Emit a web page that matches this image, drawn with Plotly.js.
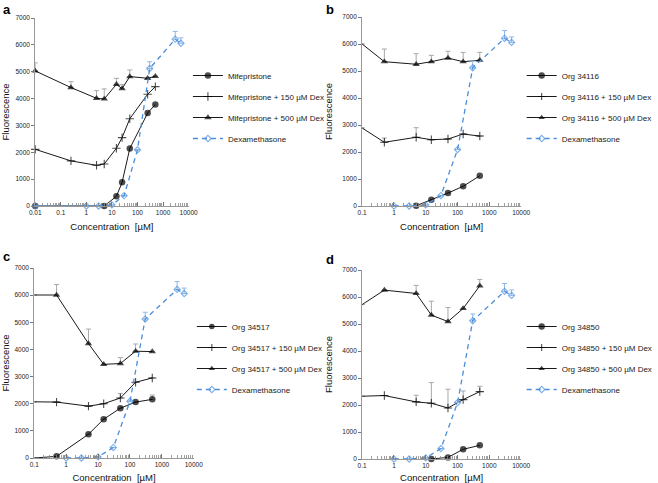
<!DOCTYPE html>
<html><head><meta charset="utf-8">
<script src="https://cdn.plot.ly/plotly-3.0.1.min.js"></script>
<style>html,body{margin:0;padding:0;background:#fff}#chart{width:658px;height:483px}</style>
</head><body><div id="chart"></div>
<script>
// ---- Shared dexamethasone curve ----
const dexX = [1, 3, 10, 30, 100, 300, 3000, 5000];
const dexY = [0, 0, 40, 385, 2090, 5120, 6210, 6060];
const dexErr = [0, 0, 0, 0, 0, 250, 290, 200];
const dexCtrlX = [0.01];   // control point shown in panel a only
const dexCtrlY = [0];

// ---- Panel a: Mifepristone ----
const aNames = ['Mifepristone', 'Mifepristone + 150 µM Dex', 'Mifepristone + 500 µM Dex', 'Dexamethasone'];
const aDrugX = [0.01, 5, 15, 25, 50, 250, 500];
const aDrugY = [0, 0, 360, 880, 2140, 3460, 3780];
const aX = [0.01, 0.25, 2.5, 5, 15, 25, 50, 250, 500];
const a150Y = [2110, 1680, 1515, 1565, 2150, 2545, 3250, 4160, 4445];
const a500Y = [5030, 4410, 4010, 3985, 4530, 4370, 4820, 4755, 4830];
const a500Err = [300, 220, 285, 375, 225, 150, 245, 0, 0];

// ---- Panel b: Org 34116 ----
const bNames = ['Org 34116', 'Org 34116 + 150 µM Dex', 'Org 34116 + 500 µM Dex', 'Dexamethasone'];
const bDrugX = [5, 15, 50, 150, 500];
const bDrugY = [10, 230, 480, 730, 1120];
const bX = [0.1, 0.5, 5, 15, 50, 150, 500];
const b150Y = [2890, 2360, 2545, 2455, 2480, 2665, 2590];
const b150Err = [0, 160, 355, 0, 0, 0, 0];
const b500Y = [6000, 5345, 5250, 5345, 5480, 5345, 5400];
const b500Err = [0, 470, 390, 235, 250, 345, 290];

// ---- Panel c: Org 34517 ----
const cNames = ['Org 34517', 'Org 34517 + 150 µM Dex', 'Org 34517 + 500 µM Dex', 'Dexamethasone'];
const cX = [0.1, 0.5, 5, 15, 50, 150, 500];
const cDrugY = [0, 60, 875, 1430, 1835, 2060, 2160];
const cDrugErr = [0, 0, 0, 0, 0, 0, 160];
const c150Y = [2070, 2060, 1910, 2000, 2210, 2790, 2950];
const c150Err = [0, 0, 0, 0, 170, 0, 0];
const c500Y = [6005, 6005, 4215, 3450, 3480, 3935, 3920];
const c500Err = [0, 385, 535, 0, 220, 265, 0];

// ---- Panel d: Org 34850 ----
const dNames = ['Org 34850', 'Org 34850 + 150 µM Dex', 'Org 34850 + 500 µM Dex', 'Dexamethasone'];
const dDrugX = [15, 50, 150, 500];
const dDrugY = [0, 60, 360, 505];
const dX = [0.1, 0.5, 5, 15, 50, 150, 500];
const d150Y = [2325, 2350, 2115, 2065, 1890, 2200, 2495];
const d150Err = [0, 0, 245, 765, 695, 320, 200];
const d500Y = [5720, 6255, 6130, 5330, 5090, 5575, 6415];
const d500Err = [0, 0, 300, 515, 520, 0, 235];

const xTickVals = [0.01, 0.1, 1, 10, 100, 1000, 10000];
const xTickText = ['0.01', '0.1', '1', '10', '100', '1000', '10000'];
const yTickVals = [0, 1000, 2000, 3000, 4000, 5000, 6000, 7000];

// ---------------------------------------------------------------
const BLACK = '#000000', BLUE = '#4a8edb', ERRG = '#a8a8a8';
const FONT = 'Liberation Sans, Arial, Helvetica, sans-serif';
const traces = [];
let gid = 0;

function series(name, x, y, err, kind, n, hideAt) {
  const sym = {circle: 'circle', cross: 'cross-thin-open', tri: 'triangle-up', dex: 'diamond-open'}[kind];
  const baseSize = {circle: 6.5, cross: 6, tri: 6.5, dex: 4.8}[kind];
  const col = kind === 'dex' ? BLUE : BLACK;
  const sizes = x.map(v => (hideAt !== undefined && v <= hideAt) ? 0 : baseSize);
  const t = {
    type: 'scatter', mode: 'lines+markers', name: name, x: x, y: y,
    xaxis: n === 1 ? 'x' : 'x' + n, yaxis: n === 1 ? 'y' : 'y' + n,
    legend: n === 1 ? 'legend' : 'legend' + n,
    legendgroup: 'g' + (gid++),
    line: {color: kind === 'dex' ? BLUE : '#1a1a1a', width: kind === 'dex' ? 1.3 : 1, dash: kind === 'dex' ? '5px,4px' : 'solid'},
    marker: {symbol: sym, size: sizes, color: col,
             line: {color: col, width: (kind === 'cross' || kind === 'dex') ? 1.1 : 0}},
    cliponaxis: false
  };
  if (err) {
    t.error_y = {type: 'data', symmetric: false, array: err, arrayminus: err.map(() => 0),
                 color: kind === 'dex' ? '#8fb8e8' : ERRG, thickness: 1, width: 2.5};
  }
  traces.push(t);
}

// Panel a
series(aNames[0], aDrugX, aDrugY, null, 'circle', 1);
series(aNames[1], aX, a150Y, null, 'cross', 1);
series(aNames[2], aX, a500Y, a500Err, 'tri', 1);
series(aNames[3], dexCtrlX.concat(dexX), dexCtrlY.concat(dexY), [0].concat(dexErr), 'dex', 1);
// Panel b
series(bNames[0], bDrugX, bDrugY, null, 'circle', 2);
series(bNames[1], bX, b150Y, b150Err, 'cross', 2, 0.1);
series(bNames[2], bX, b500Y, b500Err, 'tri', 2, 0.1);
series(bNames[3], dexX, dexY, dexErr, 'dex', 2);
// Panel c
series(cNames[0], cX, cDrugY, cDrugErr, 'circle', 3, 0.1);
series(cNames[1], cX, c150Y, c150Err, 'cross', 3, 0.1);
series(cNames[2], cX, c500Y, c500Err, 'tri', 3, 0.1);
series(cNames[3], dexX, dexY, dexErr, 'dex', 3);
// Panel d
series(dNames[0], dDrugX, dDrugY, null, 'circle', 4);
series(dNames[1], dX, d150Y, d150Err, 'cross', 4, 0.1);
series(dNames[2], dX, d500Y, d500Err, 'tri', 4, 0.1);
series(dNames[3], dexX, dexY, dexErr, 'dex', 4);

const W = 658, H = 483;
function minorVals(lo, hi) {
  const out = [];
  for (let d = lo; d < hi; d++) for (let k = 2; k <= 9; k++) out.push(k * Math.pow(10, d));
  return out;
}
function xAxis(px0, px1, lo, anchor) {
  const vals = [], txt = [];
  xTickVals.forEach((v, i) => { if (Math.log10(v) >= lo - 1e-9) { vals.push(v); txt.push(xTickText[i]); } });
  return {
    type: 'log', range: [lo, 4], domain: [px0 / W, px1 / W], anchor: anchor,
    tickmode: 'array', tickvals: vals, ticktext: txt,
    ticks: 'inside', ticklen: 4, tickcolor: '#777', tickwidth: 1,
    minor: {tickmode: 'array', tickvals: minorVals(lo, 4), ticks: 'inside', ticklen: 3, tickcolor: '#888', tickwidth: 0.8},
    showline: true, linecolor: '#999', linewidth: 1, showgrid: false, zeroline: false,
    tickfont: {size: 6.5, color: '#222', family: FONT},
    title: {text: 'Concentration  [µM]', font: {size: 9.5, color: '#111', family: FONT}, standoff: 8},
    automargin: false, fixedrange: true
  };
}
function yAxis(top, bot, anchor) {
  return {
    range: [0, 7000], domain: [(H - bot) / H, (H - top) / H], anchor: anchor,
    tickmode: 'array', tickvals: yTickVals,
    ticks: 'outside', ticklen: 3, tickcolor: '#777', tickwidth: 1,
    showline: true, linecolor: '#999', linewidth: 1, showgrid: false, zeroline: false,
    tickfont: {size: 6.5, color: '#222', family: FONT},
    title: {text: 'Fluorescence', font: {size: 9.5, color: '#111', family: FONT}, standoff: 8},
    automargin: false, fixedrange: true
  };
}
function legend(px, pyTop) {
  return {x: px / W, y: (H - pyTop) / H, xanchor: 'left', yanchor: 'top',
          font: {size: 8, color: '#222', family: FONT}, tracegroupgap: 2,
          bgcolor: 'rgba(0,0,0,0)', borderwidth: 0, itemwidth: 30, itemclick: false, itemdoubleclick: false};
}
function letter(t, px, py) {
  return {text: '<b>' + t + '</b>', x: px / W, y: (H - py) / H, xref: 'paper', yref: 'paper',
          xanchor: 'left', yanchor: 'top', showarrow: false, font: {size: 13, color: '#000', family: FONT}};
}

const layout = {
  width: W, height: H, margin: {l: 0, r: 0, t: 0, b: 0},
  paper_bgcolor: '#fff', plot_bgcolor: '#fff', showlegend: true,
  font: {family: FONT},
  xaxis: xAxis(36, 192.7, -2, 'y'),
  yaxis: yAxis(18, 206, 'x'),
  xaxis2: xAxis(370, 532.5, -1, 'y2'),
  yaxis2: yAxis(17, 206, 'x2'),
  xaxis3: xAxis(35, 198, -1, 'y3'),
  yaxis3: yAxis(268, 458, 'x3'),
  xaxis4: xAxis(370, 532.5, -1, 'y4'),
  yaxis4: yAxis(270, 459, 'x4'),
  legend: legend(192, 61),
  legend2: legend(533, 61),
  legend3: legend(196, 312),
  legend4: legend(533, 312),
  annotations: [letter('a', 1, 0), letter('b', 331, 0), letter('c', 1, 247), letter('d', 331, 250)]
};

Plotly.newPlot('chart', traces, layout, {staticPlot: true, displayModeBar: false});
</script>
</body></html>
